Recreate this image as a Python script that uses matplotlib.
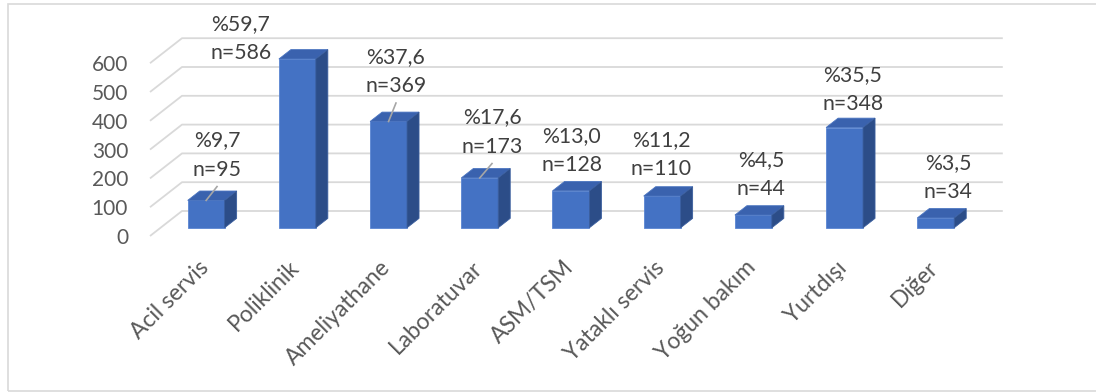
import matplotlib
matplotlib.use("Agg")
import matplotlib.pyplot as plt
from matplotlib.patches import Polygon, Rectangle
from matplotlib.transforms import ScaledTranslation

plt.rcParams['font.family'] = ['Lato', 'DejaVu Sans']

categories = ["Acil servis", "Poliklinik", "Ameliyathane", "Laboratuvar", "ASM/TSM",
              "Yataklı servis", "Yoğun bakım", "Yurtdışı", "Diğer"]
counts = [95, 586, 369, 173, 128, 110, 44, 348, 34]
percents = [9.7, 59.7, 37.6, 17.6, 13.0, 11.2, 4.5, 35.5, 3.5]
y_ticks = [0, 100, 200, 300, 400, 500, 600]

# where Excel put each label block (x in category units, y in value units)
label_xy = [(0.235, 281), (0.498, 687), (2.197, 571), (3.25, 361), (4.127, 297),
            (5.103, 283), (6.20, 213), (7.208, 510), (8.25, 203)]
leader = [True, False, True, True, False, False, False, False, False]

FRONT = "#4472C4"
TOP = "#3A62AE"
SIDE = "#2C4D88"
GRID = "#D9D9D9"

W, H = 1096, 392
fig = plt.figure(figsize=(W / 100, H / 100), dpi=100)

# axes = front plane of the 3D box (pixel layout)
px_left, px_right = 150, 150 + 9 * 91.2
px_zero, px_top = 236, 63.2
ax = fig.add_axes([px_left / W, 1 - px_zero / H, (px_right - px_left) / W, (px_zero - px_top) / H])
ax.set_xlim(-0.5, len(categories) - 0.5)
ax.set_ylim(0, 600)
for s in ax.spines.values():
    s.set_visible(False)
ax.patch.set_visible(False)

px_per_cat = 91.2
px_per_unit = (px_zero - px_top) / 600
# depth of the box, in data units
Dx, Dy = 32 / px_per_cat, 25 / px_per_unit
f1, f2 = 0.33, 0.705
bw = 0.405

# gridlines: left wall diagonal + back wall
for v in y_ticks:
    xs = [-0.5, -0.5 + Dx, len(categories) - 0.5 + Dx]
    ys = [v, v + Dy, v + Dy]
    ax.plot(xs, ys, color=GRID, lw=1.3, zorder=1, clip_on=False, solid_capstyle='butt')

# bars
for i, v in enumerate(counts):
    x0 = i - bw / 2 + f1 * Dx
    x1 = x0 + bw
    y0 = f1 * Dy
    ddx, ddy = (f2 - f1) * Dx, (f2 - f1) * Dy
    front = [(x0, y0), (x1, y0), (x1, y0 + v), (x0, y0 + v)]
    top = [(x0, y0 + v), (x1, y0 + v), (x1 + ddx, y0 + v + ddy), (x0 + ddx, y0 + v + ddy)]
    side = [(x1, y0), (x1 + ddx, y0 + ddy), (x1 + ddx, y0 + v + ddy), (x1, y0 + v)]
    ax.add_patch(Polygon(front, closed=True, fc=FRONT, ec="#5A85D2", lw=0.6, zorder=3, clip_on=False))
    ax.add_patch(Polygon(top, closed=True, fc=TOP, ec="#4A74C0", lw=0.6, zorder=3, clip_on=False))
    ax.add_patch(Polygon(side, closed=True, fc=SIDE, ec="#3A5E9E", lw=0.6, zorder=3, clip_on=False))

    # data labels
    lx, ly = label_xy[i]
    half = 14.5 / px_per_unit
    pct = "%" + f"{percents[i]:.1f}".replace(".", ",")
    ax.text(lx, ly + half, pct, ha='center', va='center', fontsize=15.3,
            color="#404040", zorder=5, clip_on=False)
    ax.text(lx, ly - half, f"n={v}", ha='center', va='center', fontsize=15.3,
            color="#404040", zorder=5, clip_on=False)
    if leader[i]:
        bx = i + f1 * Dx
        ax.plot([bx, lx], [y0 + v, ly - half - 17 / px_per_unit], color="#A6A6A6",
                lw=1.2, zorder=4, clip_on=False)

# axis labels
ax.set_yticks(y_ticks)
ax.set_yticklabels([str(t) for t in y_ticks])
ax.tick_params(axis='y', length=0, pad=15.8, labelsize=15, labelcolor="#595959")
ax.set_xticks(range(len(categories)))
ax.set_xticklabels(categories, rotation=45, ha='right', va='top', rotation_mode='anchor')
ax.tick_params(axis='x', length=0, pad=15, labelsize=16.5, labelcolor="#595959")
shift = ScaledTranslation(2 / 100, 0, fig.dpi_scale_trans)
for lab in ax.get_xticklabels():
    lab.set_transform(lab.get_transform() + shift)

# chart area border
fig.patches.append(Rectangle((8 / W, 1 - 390.5 / H), 1.2, (390.5 - 4) / H,
                             transform=fig.transFigure, fill=False, ec=GRID, lw=1.2))

fig.savefig("out.png", dpi=100)
